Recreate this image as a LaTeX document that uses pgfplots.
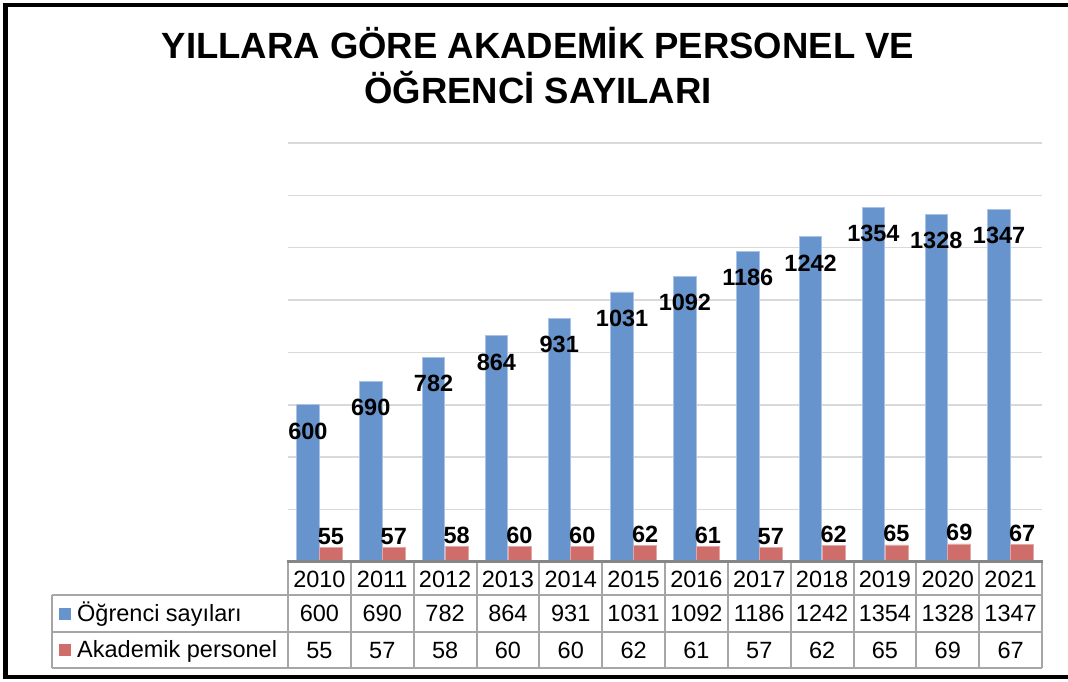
\documentclass[border=0pt]{standalone}
\usepackage{pgfplots}
\pgfplotsset{compat=1.18}
\usepackage{pgfplotstable}
\usepackage{fontspec}
\setmainfont{Liberation Sans}
\definecolor{cBlue}{HTML}{6794CC}
\definecolor{cBlueEdge}{HTML}{A9C3E4}
\definecolor{cRed}{HTML}{CF6D6B}
\definecolor{cRedEdge}{HTML}{E3A8A6}
\definecolor{cGrid}{HTML}{D9D9D9}
\definecolor{cTab}{HTML}{A6A6A6}
\definecolor{cAxis}{HTML}{868686}
\newcommand\titlefont{\fontsize{36.5bp}{40bp}\selectfont\bfseries}
\newcommand\lblfont{\fontsize{23.5bp}{26bp}\selectfont\bfseries}
\newcommand\tabfont{\fontsize{23.5bp}{26bp}\selectfont}
\pgfplotstableread{
x year ogr aka
0 2010 600 55
1 2011 690 57
2 2012 782 58
3 2013 864 60
4 2014 931 60
5 2015 1031 62
6 2016 1092 61
7 2017 1186 57
8 2018 1242 62
9 2019 1354 65
10 2020 1328 69
11 2021 1347 67
}\data
\begin{document}
\begin{tikzpicture}[x=1bp,y=1bp]
\useasboundingbox (0,0) rectangle (1068,682);
\fill[white] (0,0) rectangle (1068,682);
\begin{axis}[
  at={(288bp,120bp)}, anchor=south west,
  scale only axis, width=754bp, height=419bp,
  xmin=-0.5, xmax=11.5, ymin=0, ymax=1600,
  xtick=\empty, ytick={200,400,...,1600}, yticklabels={},
  ymajorgrids, grid style={color=cGrid, line width=1.5bp},
  major tick length=0pt,
  axis line style={draw=none},
  clip=false,
]
\addplot[ybar, bar width=22.5bp, bar shift=-11.5bp, fill=cBlue, draw=cBlueEdge, line width=0.8bp,
  nodes near coords, point meta=explicit symbolic,
  nodes near coords style={anchor=base, xshift=-11.5bp, yshift=-34.5bp, inner sep=0pt, font=\lblfont, text=black}]
  table[x=x, y=ogr, meta=ogr]{\data};
\addplot[ybar, bar width=23bp, bar shift=11.5bp, fill=cRed, draw=cRedEdge, line width=0.8bp,
  nodes near coords, point meta=explicit symbolic,
  nodes near coords style={anchor=base, xshift=11.5bp, yshift=3bp, inner sep=0pt, font=\lblfont, text=black}]
  table[x=x, y=aka, meta=aka]{\data};
\addplot[draw=none, mark=none, nodes near coords, point meta=explicit symbolic,
  nodes near coords style={anchor=base, inner sep=0pt, font=\tabfont, text=black}]
  table[x=x, y expr=-99.3, meta=year]{\data};
\addplot[draw=none, mark=none, nodes near coords, point meta=explicit symbolic,
  nodes near coords style={anchor=base, inner sep=0pt, font=\tabfont, text=black}]
  table[x=x, y expr=-229.1, meta=ogr]{\data};
\addplot[draw=none, mark=none, nodes near coords, point meta=explicit symbolic,
  nodes near coords style={anchor=base, inner sep=0pt, font=\tabfont, text=black}]
  table[x=x, y expr=-366.6, meta=aka]{\data};
\end{axis}
% table grid
\begin{scope}[cTab, line width=2bp]
  \draw (288,682-595) -- (1042,682-595);
  \draw (52,682-595) -- (1042,682-595);
  \draw (52,682-632) -- (1042,682-632);
  \draw (52,682-668) -- (1042,682-668);
  \draw (52,682-595) -- (52,682-668);
  \foreach \k in {0,...,12} {
    \draw (288+\k*62.8333,682-562) -- (288+\k*62.8333,682-668);
  }
\end{scope}
\draw[cAxis, line width=3bp] (287,682-562) -- (1043,682-562);
% legend keys
\fill[cBlue] (59,682-620) rectangle (71,682-608);
\fill[cRed] (59,682-656) rectangle (71,682-644);
\node[anchor=base west, inner sep=0pt, font=\tabfont] at (77,682-622) {Öğrenci sayıları};
\node[anchor=base west, inner sep=0pt, font=\tabfont] at (77,682-658) {Akademik personel};
% title
\node[anchor=base, inner sep=0pt, font=\titlefont] at (538,682-59) {YILLARA GÖRE AKADEMİK PERSONEL VE};
\node[anchor=base, inner sep=0pt, font=\titlefont] at (538,682-104) {ÖĞRENCİ SAYILARI};
% outer frame
\draw[black, line width=4bp] (1080,682-5) -- (5.5,682-5) -- (5.5,682-677.5) -- (1080,682-677.5);
\end{tikzpicture}
\end{document}
